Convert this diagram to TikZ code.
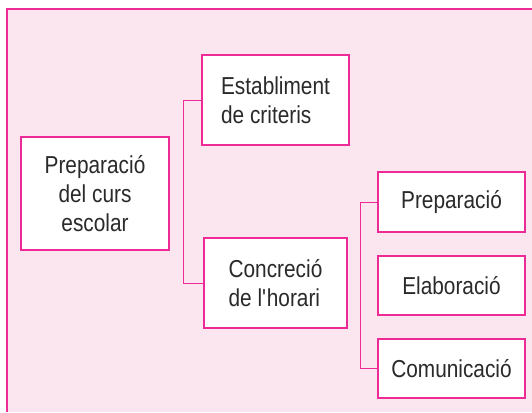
\documentclass[tikz,border=0pt]{standalone}
\usepackage{fontspec}
\setmainfont{Liberation Sans}[FakeStretch=0.85]
\definecolor{framepink}{HTML}{EE2A96}
\definecolor{bgpink}{HTML}{FBE5EF}
\definecolor{txtgray}{HTML}{2A2A2A}

\begin{document}
\begin{tikzpicture}[x=1pt,y=-1pt,
    box/.style={draw=framepink,line width=1.2pt,fill=white,text=txtgray,font=\fontsize{24.5}{29}\selectfont,inner sep=0pt},
    link/.style={draw=framepink,line width=1pt}]
    \useasboundingbox (0,0) rectangle (532,412);
    \fill[bgpink] (7,9) rectangle (532,412);
    \draw[framepink,line width=1.5pt] (532,9) -- (7,9) -- (7,412);
    \node[box,align=center,minimum width=148pt,minimum height=113pt] (curs) at (95,193.5) {Preparació\\del curs\\escolar};
    \node[box,align=left,minimum width=147pt,minimum height=90pt] (criteris) at (275.5,100) {Establiment\\de criteris};
    \node[box,align=left,minimum width=143pt,minimum height=90pt] (horari) at (275.5,283) {Concreció\\de l\textquotesingle horari};
    \node[box,minimum width=147pt,minimum height=60pt] (prep) at (451.5,202) {Preparació};
    \node[box,minimum width=147pt,minimum height=59pt] (elab) at (451.5,285.5) {Elaboració};
    \node[box,minimum width=147pt,minimum height=59pt] (comu) at (451.5,368.5) {Comunicació};
    \draw[link] (criteris.west) -- ++(-18,0) |- (horari.west);
    \draw[link] (prep.west) -- ++(-17,0) |- (comu.west);
\end{tikzpicture}
\end{document}
